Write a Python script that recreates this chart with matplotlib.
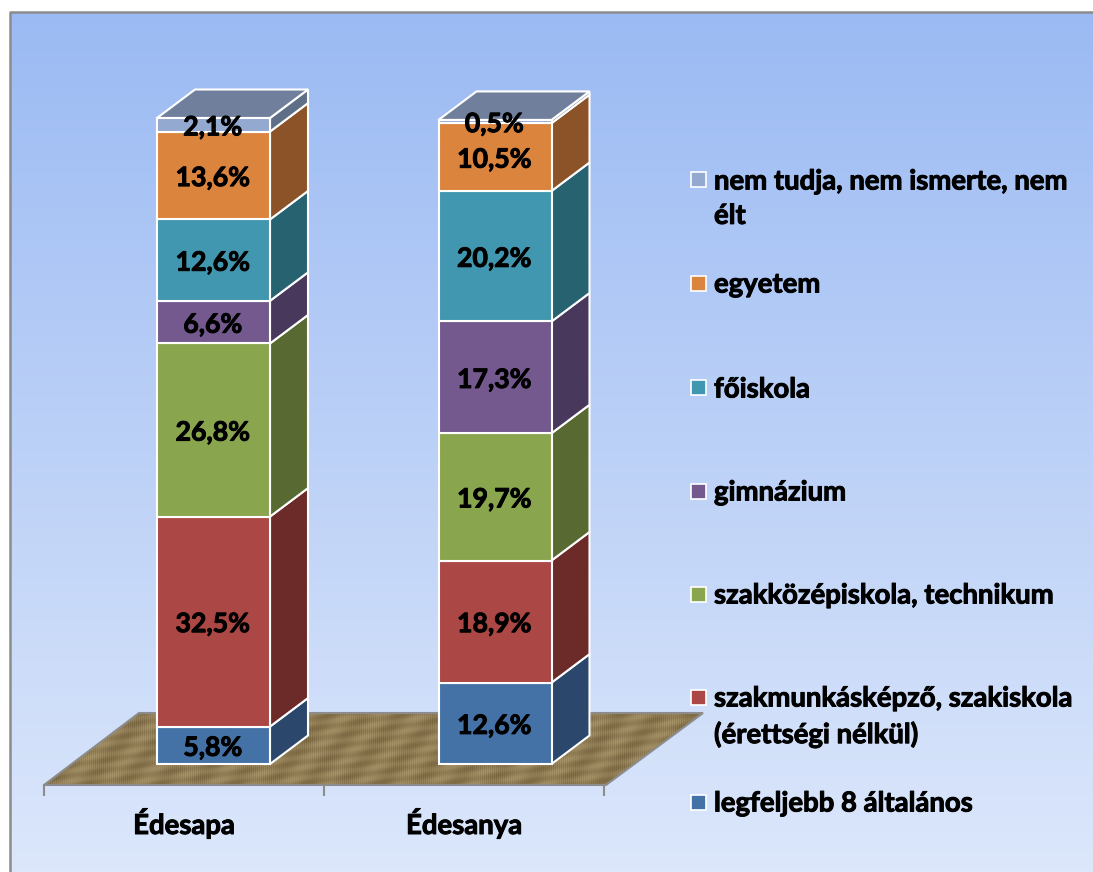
import matplotlib
matplotlib.use("Agg")
import matplotlib.pyplot as plt
import matplotlib.patheffects as pe
from matplotlib.patches import Polygon, Rectangle
import numpy as np

plt.rcParams['font.family'] = ['Lato', 'DejaVu Sans']
plt.rcParams['font.weight'] = 'bold'

categories = ["Édesapa", "Édesanya"]
levels = ["legfeljebb 8 általános", "szakmunkásképző, szakiskola\n(érettségi nélkül)",
          "szakközépiskola, technikum", "gimnázium", "főiskola", "egyetem",
          "nem tudja, nem ismerte, nem\nélt"]
father = [5.8, 32.5, 26.8, 6.6, 12.6, 13.6, 2.1]
mother = [12.6, 18.9, 19.7, 17.3, 20.2, 10.5, 0.5]

front_colors = ["#4472A7", "#AB4744", "#89A54E", "#74598F", "#4197AF", "#DB843D", "#94A9CF"]
side_colors = ["#2B476B", "#6C2B29", "#586A32", "#48385C", "#276270", "#8B5327", "#5F6F87"]
top_color = "#707F9C"
legend_y = [802, 697, 594, 491, 388, 283, 180]

W, H = 1093, 872
fig = plt.figure(figsize=(W / 100, H / 100), dpi=100, facecolor="white")
thick = [pe.withStroke(linewidth=0.7, foreground="black")]
font_size = 19.8
label_size = 19.2

# pixel axes for background, floor and legend
bg = fig.add_axes([0, 0, 1, 1])
bg.set_xlim(0, W)
bg.set_ylim(H, 0)
bg.axis("off")

grad = np.linspace(0, 1, 256).reshape(-1, 1)
c1 = np.array([0x9B, 0xBA, 0xF3]) / 255
c2 = np.array([0xDC, 0xE7, 0xFB]) / 255
bg.imshow((c1 + (c2 - c1) * grad)[:, None, :].reshape(256, 1, 3), extent=(10, W, H, 13),
          aspect="auto", zorder=0)
bg.plot([9.5, 9.5, W], [H, 12.5, 12.5], color="#8C8C8C", lw=1.8, zorder=1)

# floor: woven look, no data in it
yy, xx = np.mgrid[0:73 * 2, 0:680 * 2] / 2
weave = np.sin((xx + yy * 1.6) * 1.9) * np.sin((xx - yy * 2.5) * 1.2)
patchy = np.sin(xx * 0.13 + yy * 0.37) * np.sin(xx * 0.041 - yy * 0.23)
shade = 0.5 + 0.42 * weave + 0.2 * patchy
dark = np.array([0x62, 0x50, 0x2E]) / 255
light = np.array([0xBC, 0xA8, 0x7A]) / 255
tex = dark + (light - dark) * np.clip(shade, 0, 1)[..., None]
floor_pts = [(44, 785), (139, 713), (703, 713), (606, 785)]
im = bg.imshow(tex, extent=(35, 715, 786, 713), aspect="auto", zorder=2, interpolation="bilinear")
im.set_clip_path(Polygon(floor_pts, transform=bg.transData))
bg.add_patch(Polygon(floor_pts, closed=True, fill=False, edgecolor="#8C8C8C", lw=1.5, zorder=3))
for tx in [44, 324, 604]:
    bg.plot([tx, tx], [785, 795], color="#8C8C8C", lw=1.5, zorder=3)
bg.set_xlim(0, W)
bg.set_ylim(H, 0)

# legend
for name, col, ly in zip(levels, front_colors, legend_y):
    bg.add_patch(Rectangle((691, ly - 7.5), 15, 15, facecolor=col, edgecolor="white", lw=1.2, zorder=4))
    bg.text(714, ly - 11.5, name, fontsize=font_size, va="top", ha="left", color="black",
            linespacing=1.4, zorder=5, path_effects=thick)

# data axes: x = category index, y = percent
px_per_pct = 6.46
px_per_cat = 281.5
ax = fig.add_axes([0, 0, 1, 1])
ax.patch.set_alpha(0)
ax.axis("off")
ax.set_xlim(-213.5 / px_per_cat, (W - 213.5) / px_per_cat)
ax.set_ylim(-(H - 764) / px_per_pct, 764 / px_per_pct)

bar_w = 113 / px_per_cat
dx = 38 / px_per_cat
dy = 28.5 / px_per_pct
edge = dict(edgecolor="white", lw=1.5)

for i, vals in enumerate([father, mother]):
    left = i - bar_w / 2
    right = i + bar_w / 2
    bottom = 0
    for j, v in enumerate(vals):
        top = bottom + v
        ax.bar(i, v, width=bar_w, bottom=bottom, color=front_colors[j], zorder=3, **edge)
        ax.add_patch(Polygon([(right, bottom), (right + dx, bottom + dy), (right + dx, top + dy), (right, top)],
                             closed=True, facecolor=side_colors[j], zorder=2, **edge))
        ax.text(i - 0.003, bottom + v / 2 - 0.4, f"{v:.1f}%".replace(".", ","), fontsize=label_size,
                ha="center", va="center", color="black", zorder=6, path_effects=thick)
        bottom = top
    ax.add_patch(Polygon([(left, bottom), (right, bottom), (right + dx, bottom + dy), (left + dx, bottom + dy)],
                         closed=True, facecolor=top_color, zorder=2, **edge))

# category labels
for lx, name in zip([184, 464], categories):
    bg.text(lx, 823, name, fontsize=font_size, ha="center", va="center", color="black", zorder=5,
            path_effects=thick)

fig.savefig("out.png", dpi=100)
